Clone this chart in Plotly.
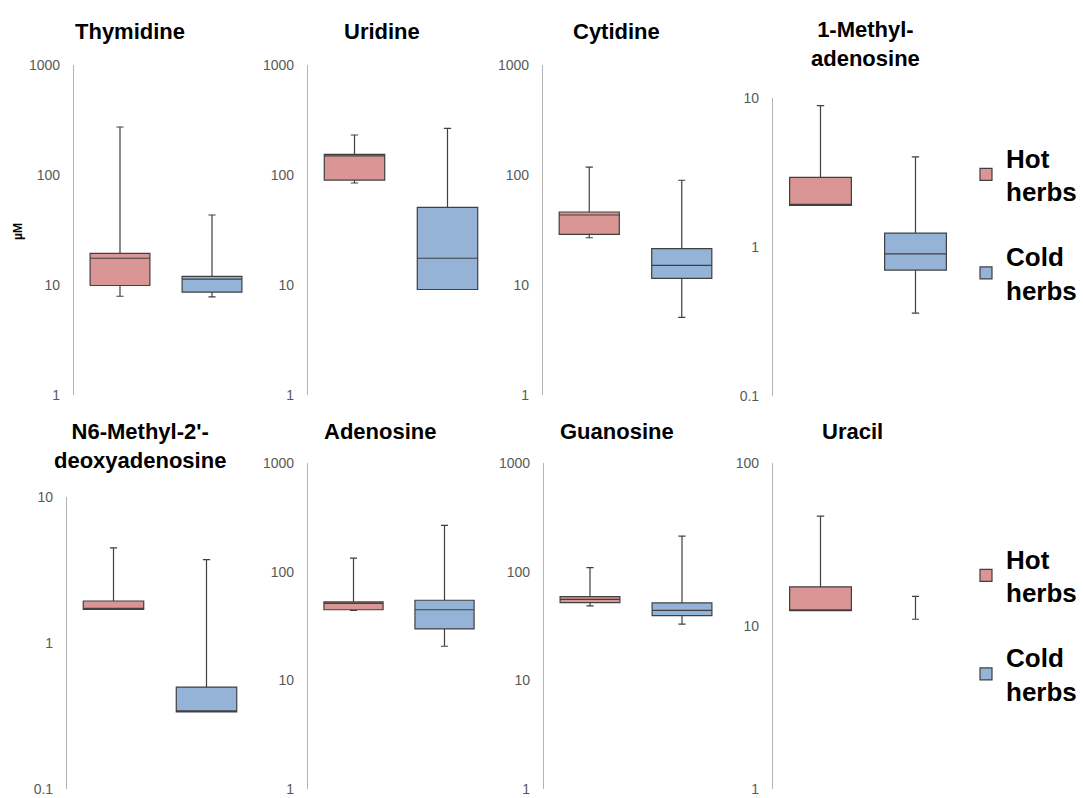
import plotly.graph_objects as go

W, H = 1083, 798

# ---------------- data ----------------
panels = ["Thymidine", "Uridine", "Cytidine", "1-Methyl-<br>adenosine",
          "N6-Methyl-2'-<br>deoxyadenosine", "Adenosine", "Guanosine", "Uracil"]
groups = ["Hot herbs", "Cold herbs"]

hot_lo  = [7.9, 84.6, 26.9, 1.90, 1.70, 44.0, 48.4, 12.4]
hot_q1  = [9.9, 90.0, 28.9, 1.90, 1.70, 44.6, 52.0, 12.4]
hot_med = [17.5, 149.0, 43.3, 1.90, 1.70, 51.0, 55.7, 12.4]
hot_q3  = [19.4, 154.0, 46.1, 2.93, 1.94, 52.7, 58.9, 17.4]
hot_hi  = [273.0, 231.0, 118.0, 8.9, 4.48, 133.0, 109.0, 47.2]

cold_lo  = [7.8, 9.1, 5.08, 0.36, 0.337, 20.6, 32.9, 11.0]
cold_q1  = [8.6, 9.1, 11.5, 0.70, 0.337, 29.7, 39.4, None]
cold_med = [11.3, 17.5, 15.1, 0.90, 0.337, 44.6, 44.0, None]
cold_q3  = [12.0, 50.8, 21.4, 1.24, 0.499, 54.6, 51.6, None]
cold_hi  = [43.3, 265.0, 89.6, 4.02, 3.72, 267.0, 212.0, 15.2]

y_ranges = [[0, 3], [0, 3], [0, 3], [-1, 1], [-1, 1], [0, 3], [0, 3], [0, 2]]
tick_vals = [[1, 10, 100, 1000]] * 3 + [[0.1, 1, 10]] * 2 + [[1, 10, 100, 1000]] * 2 + [[1, 10, 100]]
tick_text = [[str(v) for v in tv] for tv in tick_vals]

# ---------------- layout geometry (pixels) ----------------
x_px = [(74, 258), (308, 494), (543, 728), (773, 963),
        (67, 253), (308, 490), (544, 728), (773, 963)]
y_px = [(65, 395), (65, 395), (65, 395), (98, 396),
        (497, 789), (463, 789), (463, 789), (463, 789)]
title_pos = [(130, 31), (382, 31), (616, 31), (865, 44),
             (140, 446), (380, 431), (617, 431), (852, 431)]

HOT_FILL = "#D99694"
COLD_FILL = "#95B3D7"
LINE = "#404040"
FONT = "Liberation Sans"

fig = go.Figure()
layout = {}

for i in range(8):
    n = "" if i == 0 else str(i + 1)
    xa, ya = "x" + n, "y" + n
    legend_name = "legend" if i < 4 else "legend2"
    first = i in (0, 4)

    fig.add_trace(go.Box(
        x=[groups[0]], q1=[hot_q1[i]], median=[hot_med[i]], q3=[hot_q3[i]],
        lowerfence=[hot_lo[i]], upperfence=[hot_hi[i]],
        name="Hot<br>herbs", legendgroup="hot", legend=legend_name, showlegend=first,
        fillcolor=HOT_FILL, line=dict(color=LINE, width=1.2),
        width=0.65, whiskerwidth=0.12, boxpoints=False, hoverinfo="skip",
        xaxis=xa, yaxis=ya))
    if cold_q1[i] is not None:
        fig.add_trace(go.Box(
            x=[groups[1]], q1=[cold_q1[i]], median=[cold_med[i]], q3=[cold_q3[i]],
            lowerfence=[cold_lo[i]], upperfence=[cold_hi[i]],
            name="Cold<br>herbs", legendgroup="cold", legend=legend_name, showlegend=first,
            fillcolor=COLD_FILL, line=dict(color=LINE, width=1.2),
            width=0.65, whiskerwidth=0.12, boxpoints=False, hoverinfo="skip",
            xaxis=xa, yaxis=ya))
    else:
        # whisker only (no box)
        fig.add_trace(go.Scatter(
            x=[groups[1]], y=[cold_lo[i]], mode="markers",
            marker=dict(size=1, color="rgba(0,0,0,0)"),
            error_y=dict(type="data", symmetric=False,
                         array=[cold_hi[i] - cold_lo[i]], arrayminus=[0],
                         color=LINE, thickness=1.2, width=3.5),
            showlegend=False, hoverinfo="skip", xaxis=xa, yaxis=ya))

    x0, x1 = x_px[i]
    yt, yb = y_px[i]
    layout["xaxis" + n] = dict(
        domain=[x0 / W, x1 / W], anchor=ya, type="category",
        categoryorder="array", categoryarray=groups, range=[-0.5, 1.5],
        showticklabels=False, showline=False, showgrid=False, zeroline=False,
        ticks="", fixedrange=True, automargin=False)
    layout["yaxis" + n] = dict(
        domain=[1 - yb / H, 1 - yt / H], anchor=xa, type="log",
        range=y_ranges[i], tickvals=tick_vals[i], ticktext=tick_text[i],
        showline=True, linecolor="#B3B3B3", linewidth=1.2, showgrid=False,
        zeroline=False, ticks="", ticklabelstandoff=10, automargin=False,
        ticklabeloverflow="allow",
        tickfont=dict(family=FONT, size=14, color="#595959"), fixedrange=True)

annotations = []
for i, t in enumerate(panels):
    px, py = title_pos[i]
    annotations.append(dict(
        text="<b>" + t + "</b>", x=px / W, y=1 - py / H, xref="paper", yref="paper",
        xanchor="center", yanchor="middle", showarrow=False,
        font=dict(family=FONT, size=22, color="black")))
annotations.append(dict(
    text="<b>µM</b>", x=18 / W, y=1 - 232 / H, xref="paper", yref="paper",
    xanchor="center", yanchor="middle", showarrow=False, textangle=-90,
    font=dict(family=FONT, size=12, color="black")))

legend_common = dict(
    xanchor="left", yanchor="top", traceorder="grouped", tracegroupgap=28,
    font=dict(family=FONT, size=26, color="black", weight="bold"),
    bgcolor="rgba(0,0,0,0)", borderwidth=0, itemclick=False, itemdoubleclick=False)

fig.update_layout(
    width=W, height=H, autosize=False,
    margin=dict(l=0, r=0, t=0, b=0, autoexpand=False),
    paper_bgcolor="white", plot_bgcolor="white",
    boxmode="overlay",
    showlegend=True,
    legend=dict(x=966 / W, y=1 - 134 / H, **legend_common),
    legend2=dict(x=966 / W, y=1 - 535 / H, **legend_common),
    annotations=annotations,
    **layout)

fig.write_html("out.html")
